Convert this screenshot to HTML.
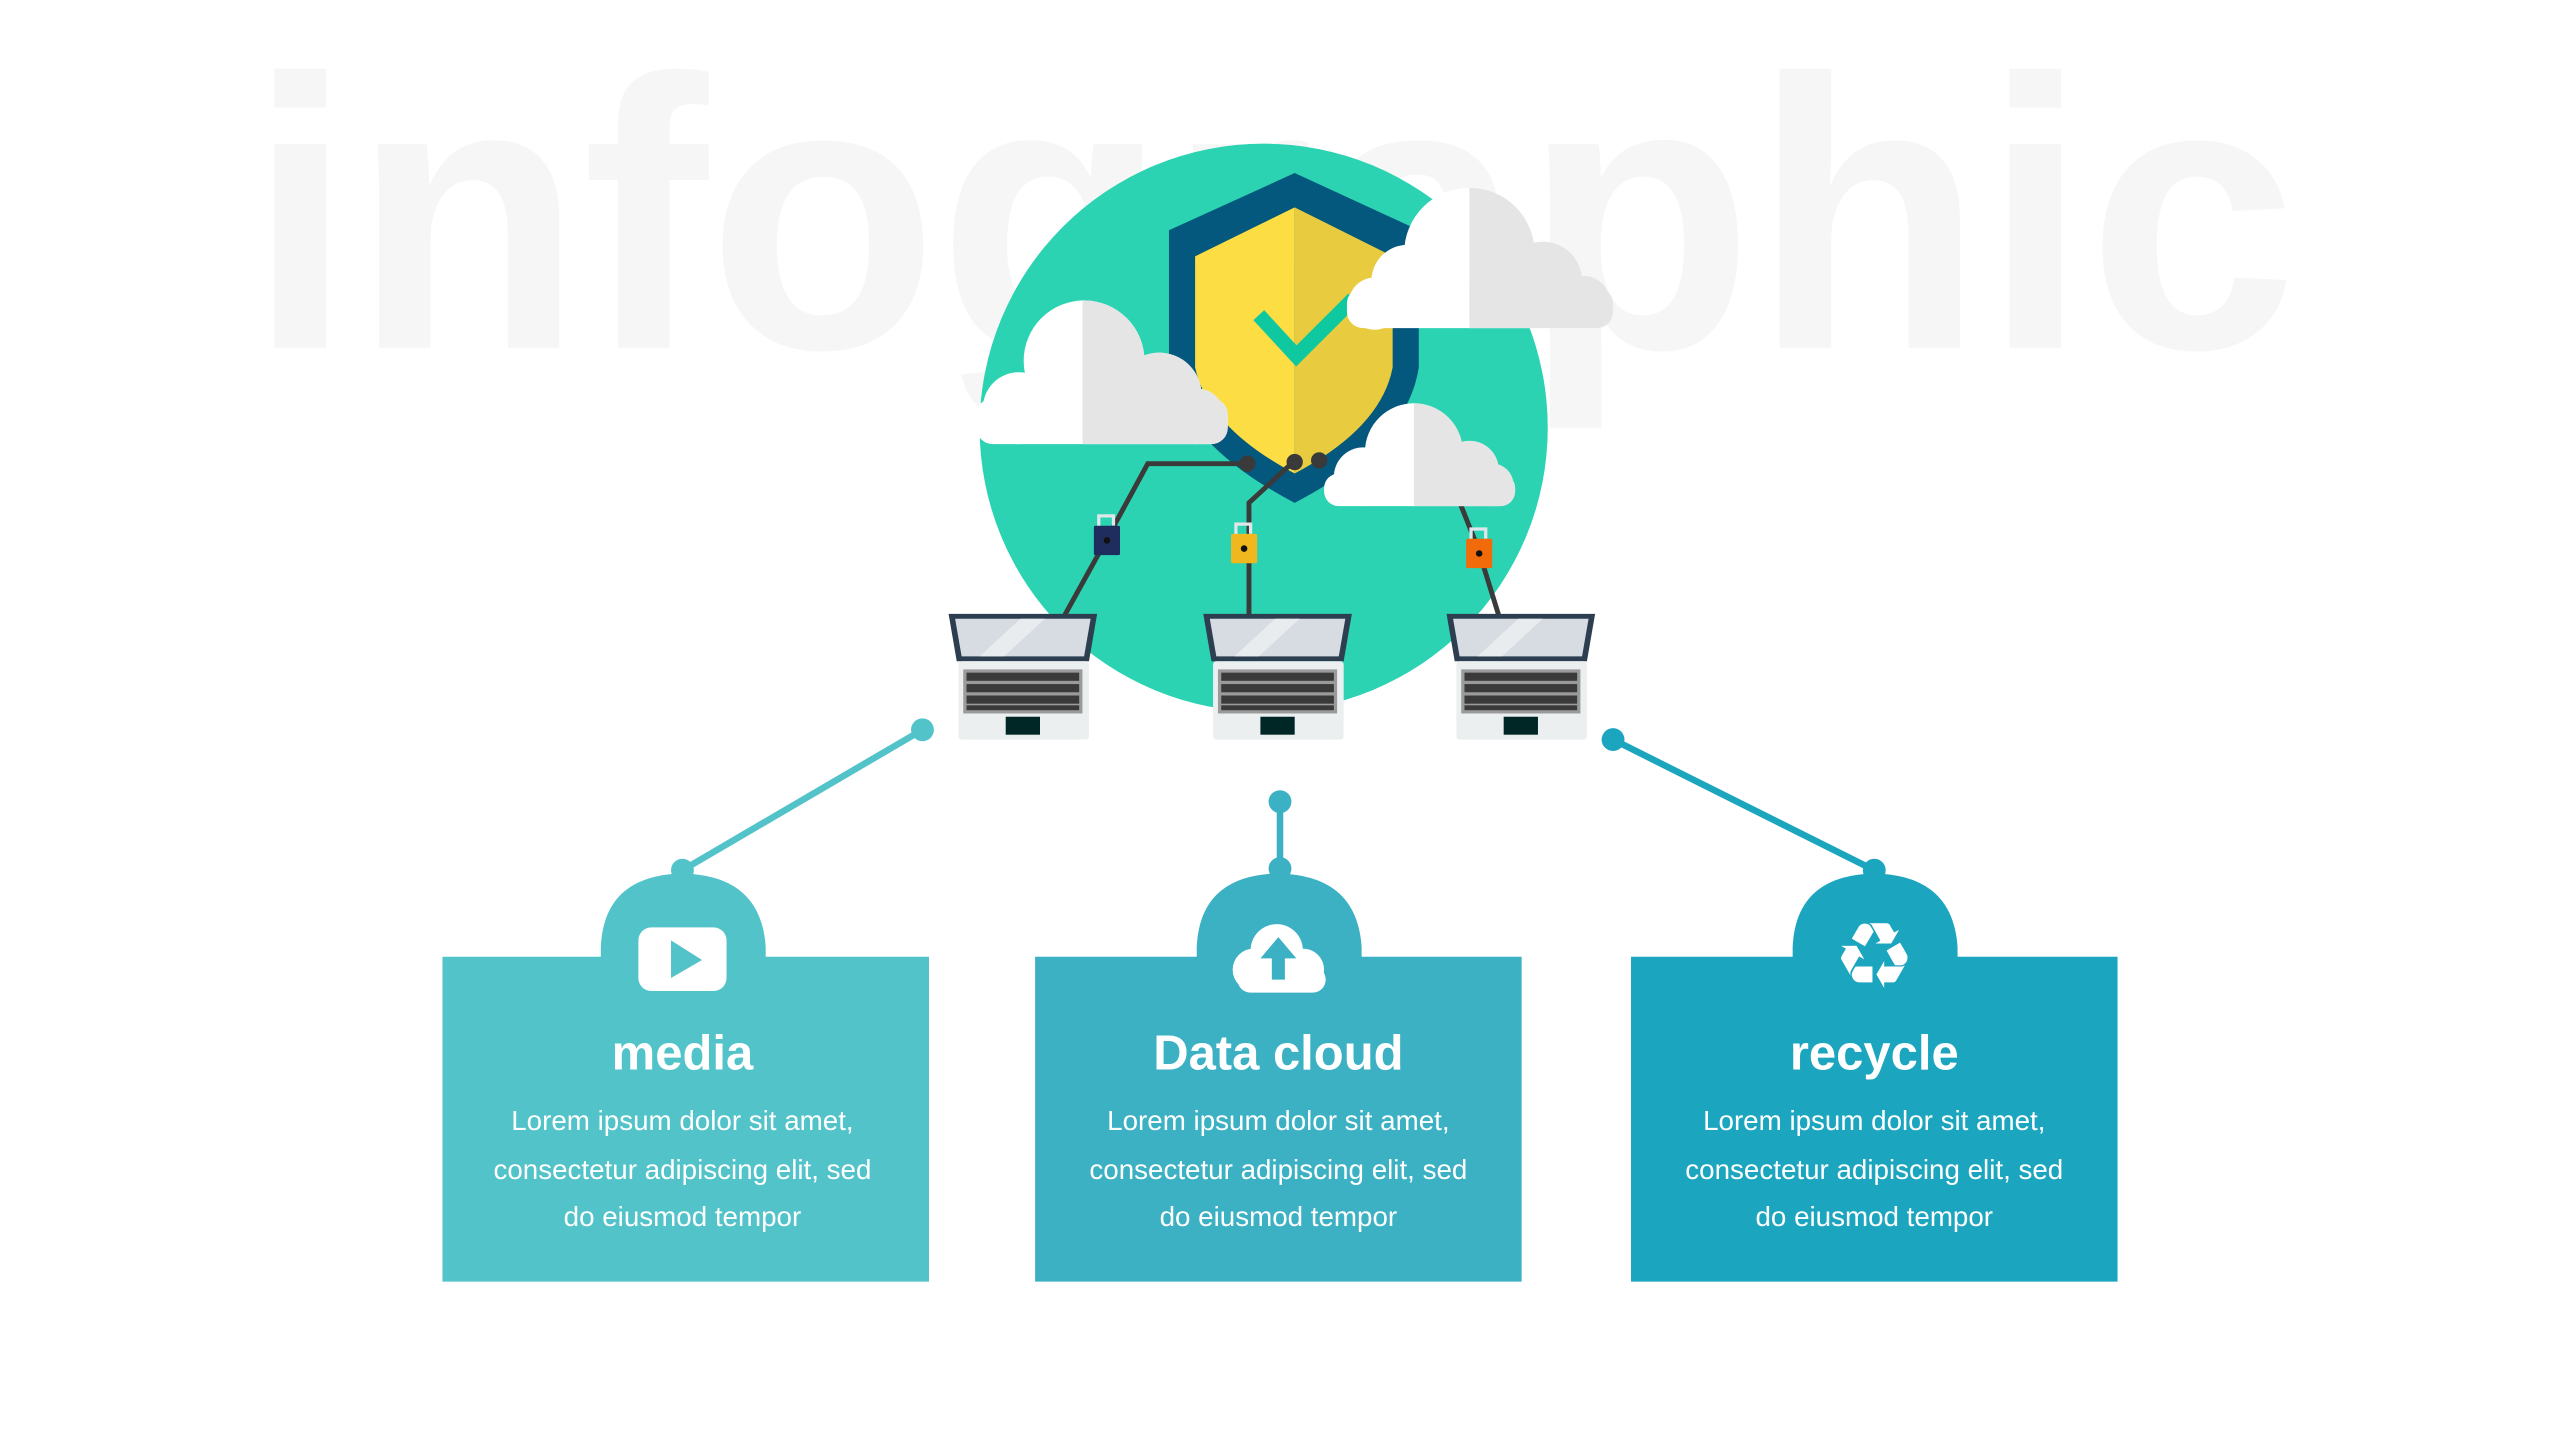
<!DOCTYPE html>
<html><head><meta charset="utf-8"><style>
html,body{margin:0;padding:0;background:#fff;}
svg{display:block;}
</style></head><body>
<svg width="2560" height="1440" viewBox="0 0 1568 882" preserveAspectRatio="none" xmlns="http://www.w3.org/2000/svg" font-family="Liberation Sans, sans-serif">
<defs>
<clipPath id="cl1"><rect x="663" y="0" width="200" height="400"/></clipPath>
<clipPath id="cl2"><rect x="900" y="0" width="200" height="400"/></clipPath>
<clipPath id="cl3"><rect x="866" y="0" width="200" height="400"/></clipPath>
<g id="c1"><circle cx="624" cy="250" r="22"/><circle cx="664" cy="221" r="37"/><circle cx="710" cy="242" r="26"/><circle cx="733" cy="255" r="17"/><rect x="598" y="244" width="154" height="28" rx="10"/></g>
<g id="c2"><circle cx="862" cy="172" r="22"/><circle cx="900" cy="155" r="40"/><circle cx="945" cy="172" r="24"/><circle cx="970" cy="185" r="16"/><circle cx="842" cy="186" r="16"/><rect x="825" y="176" width="163" height="25" rx="10"/></g>
<g id="c3"><circle cx="835" cy="292" r="18"/><circle cx="866" cy="277" r="30"/><circle cx="900" cy="288" r="18"/><circle cx="914" cy="297" r="13"/><rect x="811" y="290" width="117" height="20" rx="9"/></g>
<g id="lap">
<path d="M581,376 L672,376 L667,405 L586,405 Z" fill="#2d3e50"/>
<path d="M585,379 L668,379 L664,402 L589,402 Z" fill="#d6dce1"/>
<path d="M600,402 L625,379 L640,379 L615,402 Z" fill="#e8ecef"/>
<rect x="587" y="405" width="80" height="48" rx="2" fill="#eceff0"/>
<rect x="590" y="410" width="73" height="27" fill="#9a9a9a"/>
<rect x="592" y="412" width="69" height="5" fill="#3a3a3a"/>
<rect x="592" y="419" width="69" height="5" fill="#3a3a3a"/>
<rect x="592" y="426" width="69" height="5" fill="#3a3a3a"/>
<rect x="592" y="432" width="69" height="3" fill="#3a3a3a"/>
<rect x="616" y="439" width="21" height="11" fill="#012626"/>
</g>
</defs>
<text x="152" y="213" font-size="236" font-weight="bold" fill="#f6f6f6" textLength="1255" lengthAdjust="spacingAndGlyphs">infographic</text>
<circle cx="774" cy="262" r="174" fill="#2bd3b2"/>
<path d="M793,106 L716,141 L716,225 Q724,272 793,308 Q862,272 869,225 L869,141 Z" fill="#04577d"/>
<path d="M793,127 L732,157 L732,225 Q740,262 793,290 Z" fill="#fddd44"/>
<path d="M793,127 L853,157 L853,225 Q846,262 793,290 Z" fill="#e8cb3f"/>
<polyline points="771,193 794,218 829,183" fill="none" stroke="#0fc8a0" stroke-width="9"/>
<use href="#c1" fill="#fff"/><use href="#c1" fill="#e5e5e5" clip-path="url(#cl1)"/>
<use href="#c2" fill="#fff"/><use href="#c2" fill="#e5e5e5" clip-path="url(#cl2)"/>
<g stroke="#3a3a3a" stroke-width="3" fill="none">
<polyline points="764,284 703,284 678,330 652,377"/>
<polyline points="792,283 765,308 765,377"/>
<polyline points="893,305 905,335 918,377"/>
</g>
<circle cx="764" cy="284" r="5" fill="#3a3a3a"/><circle cx="793" cy="283" r="5" fill="#3a3a3a"/><circle cx="808" cy="282" r="5" fill="#3a3a3a"/>
<use href="#c3" fill="#fff"/><use href="#c3" fill="#e5e5e5" clip-path="url(#cl3)"/>
<g fill="none" stroke="#e0e6ea" stroke-width="2"><path d="M673,323 v-7 h9 v6"/><path d="M757,328 v-7 h9 v6"/><path d="M901,331 v-7 h9 v6"/></g>
<rect x="670" y="322" width="16" height="18" rx="1" fill="#1e2d5e"/>
<rect x="754" y="327" width="16" height="18" rx="1" fill="#f0b81e"/>
<rect x="898" y="330" width="16" height="18" rx="1" fill="#f26b0a"/>
<circle cx="678" cy="331" r="2" fill="#111"/><circle cx="762" cy="336" r="2" fill="#111"/><circle cx="906" cy="339" r="2" fill="#111"/>
<use href="#lap"/><use href="#lap" x="156"/><use href="#lap" x="305"/>
<line x1="565" y1="447" x2="418" y2="533" stroke="#52c3c9" stroke-width="4"/>
<circle cx="565" cy="447" r="7" fill="#52c3c9"/><circle cx="418" cy="533" r="7" fill="#52c3c9"/>
<line x1="784" y1="491" x2="784" y2="532" stroke="#3bb1c3" stroke-width="4"/>
<circle cx="784" cy="491" r="7" fill="#3bb1c3"/><circle cx="784" cy="532" r="7" fill="#3bb1c3"/>
<line x1="988" y1="453" x2="1148" y2="533" stroke="#1ca5be" stroke-width="4"/>
<circle cx="988" cy="453" r="7" fill="#1ca5be"/><circle cx="1148" cy="533" r="7" fill="#1ca5be"/>
<g fill="#52c3c9"><rect x="271" y="586" width="298" height="199"/><path d="M368,590 L368,580 Q370,536 418,535 Q466,536 469,580 L469,590 Z"/></g>
<g fill="#3bb1c3"><rect x="634" y="586" width="298" height="199"/><path d="M733,590 L733,580 Q735,536 783,535 Q831,536 834,580 L834,590 Z"/></g>
<g fill="#1ca5be"><rect x="999" y="586" width="298" height="199"/><path d="M1098,590 L1098,580 Q1100,536 1148,535 Q1196,536 1199,580 L1199,590 Z"/></g>
<rect x="391" y="568" width="54" height="39" rx="8" fill="#fff"/>
<path d="M411,576 L430,588 L411,599 Z" fill="#52c3c9"/>
<g fill="#fff"><circle cx="768" cy="594" r="13"/><circle cx="782" cy="582" r="16"/><circle cx="798" cy="594" r="13"/><rect x="758" y="592" width="54" height="16" rx="8"/></g>
<path d="M783,574 L772,587 L779,587 L779,600 L787,600 L787,587 L794,587 Z" fill="#3bb1c3"/>
<text x="1148" y="605" font-family="DejaVu Sans, sans-serif" font-size="56" fill="#fff" text-anchor="middle">♻</text>
<g fill="#fff" text-anchor="middle">
<text x="418" y="655" font-size="30" font-weight="bold">media</text>
<text x="783" y="655" font-size="30" font-weight="bold">Data cloud</text>
<text x="1148" y="655" font-size="30" font-weight="bold">recycle</text>
<g font-size="17">
<text x="418" y="692">Lorem ipsum dolor sit amet,</text><text x="418" y="722">consectetur adipiscing elit, sed</text><text x="418" y="751">do eiusmod tempor</text>
<text x="783" y="692">Lorem ipsum dolor sit amet,</text><text x="783" y="722">consectetur adipiscing elit, sed</text><text x="783" y="751">do eiusmod tempor</text>
<text x="1148" y="692">Lorem ipsum dolor sit amet,</text><text x="1148" y="722">consectetur adipiscing elit, sed</text><text x="1148" y="751">do eiusmod tempor</text>
</g></g>
</svg>
</body></html>
